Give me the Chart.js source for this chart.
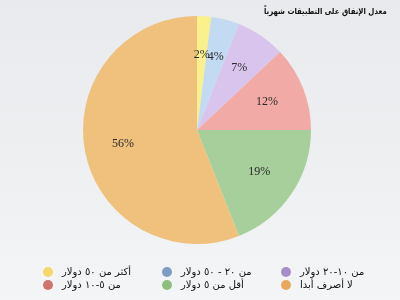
<!DOCTYPE html>
<html>
<head>
<meta charset="utf-8">
<script src="https://cdn.jsdelivr.net/npm/chart.js@4"></script>
<style>
    html, body { margin: 0; padding: 0; }
    body {
        width: 400px; height: 300px; overflow: hidden; position: relative;
        background: linear-gradient(180deg, #e8eaed 0%, #f0f1f3 70%, #f4f5f6 100%);
        font-family: 'DejaVu Sans', sans-serif;
    }
    #wrap { position: absolute; left: 0; top: 0; width: 400px; height: 300px; }
    #title {
        position: absolute; right: 13px; top: 6px;
        direction: rtl; font-size: 8.5px; font-weight: bold; color: #111;
        transform: scaleX(0.82); transform-origin: right center;
    }
    #legend {
        position: absolute; left: 43px; top: 265px;
        display: grid; grid-template-columns: 119px 119px 119px; grid-auto-rows: 13px;
        font-size: 10px; color: #111;
    }
    #legend .item { display: flex; align-items: center; }
    #legend .dot { width: 10px; height: 10px; border-radius: 50%; margin-right: 9px; flex: none; }
    #legend .txt { direction: rtl; unicode-bidi: isolate; white-space: nowrap; }
</style>
</head>
<body>
<div id="wrap"><canvas id="myPieChart" width="400" height="300"></canvas></div>
<div id="title">معدل الإنفاق على التطبيقات شهرياً</div>
<div id="legend"></div>
<script>
// data, clockwise from the top of the pie
var chartTitle = 'معدل الإنفاق على التطبيقات شهرياً';
var chartLabels = ['أكثر من ٥٠ دولار', 'من ٢٠ - ٥٠ دولار', 'من ١٠-٢٠ دولار', 'من ٥-١٠ دولار', 'أقل من ٥ دولار', 'لا أصرف أبدا'];
var chartValues = [2, 4, 7, 12, 19, 56];

var sliceColors = ['#faf08c', '#c2dbf2', '#d9c4ee', '#f1aaa6', '#a7cf9b', '#efc17d'];
var legendColors = ['#f6d86a', '#7e9dc5', '#a68fc9', '#cf7371', '#8dbf7f', '#e9a95c'];

document.addEventListener('DOMContentLoaded', function() {
    document.getElementById('title').textContent = chartTitle;

    // percent labels drawn on each slice
    var percentLabels = {
        id: 'percentLabels',
        afterDatasetsDraw: function(chart) {
            var ctx = chart.ctx;
            var meta = chart.getDatasetMeta(0);
            ctx.save();
            ctx.font = '12px "Liberation Serif", serif';
            ctx.fillStyle = '#2a2a2a';
            ctx.textAlign = 'center';
            ctx.textBaseline = 'middle';
            meta.data.forEach(function(arc, i) {
                var mid = (arc.startAngle + arc.endAngle) / 2;
                var r = arc.outerRadius * 0.66;
                ctx.fillText(chartValues[i] + '%', arc.x + Math.cos(mid) * r, arc.y + Math.sin(mid) * r);
            });
            ctx.restore();
        }
    };

    var pieChart = document.getElementById('myPieChart');
    var chart = new Chart(pieChart, {
        type: 'pie',
        data: {
            labels: chartLabels,
            datasets: [{
                data: chartValues,
                backgroundColor: sliceColors,
                borderWidth: 0
            }]
        },
        options: {
            responsive: false,
            animation: false,
            layout: { padding: { left: 83, right: 89, top: 16, bottom: 56 } },
            plugins: {
                legend: { display: false },
                tooltip: { enabled: false }
            }
        },
        plugins: [percentLabels]
    });

    // legend from the chart's own data
    var legend = document.getElementById('legend');
    chart.data.labels.forEach(function(label, i) {
        var item = document.createElement('div');
        item.className = 'item';
        var dot = document.createElement('span');
        dot.className = 'dot';
        dot.style.background = legendColors[i];
        var txt = document.createElement('span');
        txt.className = 'txt';
        txt.textContent = label;
        item.appendChild(dot);
        item.appendChild(txt);
        legend.appendChild(item);
    });
});
</script>
</body>
</html>
